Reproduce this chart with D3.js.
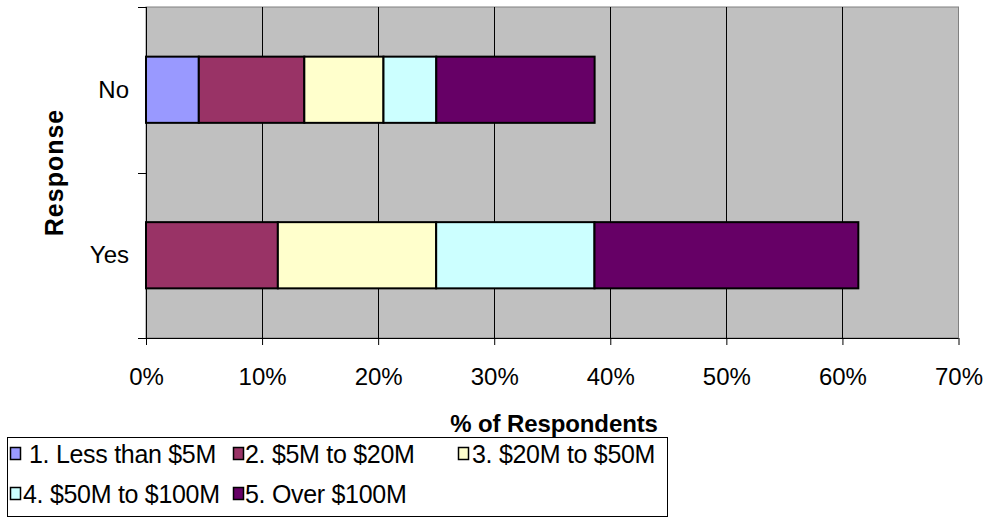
<!DOCTYPE html>
<html>
<head>
<meta charset="utf-8">
<script src="https://cdn.jsdelivr.net/npm/d3@7"></script>
<style>
  html, body { margin: 0; padding: 0; background: #ffffff; }
  svg { display: block; font-family: "Liberation Sans", Arial, sans-serif; }
</style>
</head>
<body>
<svg id="chart" width="992" height="519"></svg>
<script>
// Responses (category axis, top to bottom)
const categories = ["No", "Yes"];
// Budget bands (stack order, left to right)
const seriesNames = ["1. Less than $5M", "2. $5M to $20M", "3. $20M to $50M", "4. $50M to $100M", "5. Over $100M"];
const seriesColors = ["#9999FF", "#993366", "#FFFFCC", "#CCFFFF", "#660066"];
// Percent of respondents per band, one array per response
const noValues  = [4.55, 9.09, 6.82, 4.55, 13.64];
const yesValues = [0, 11.36, 13.64, 13.64, 22.73];
const xTicks = [0, 10, 20, 30, 40, 50, 60, 70];
const xAxisTitle = "% of Respondents";
const yAxisTitle = "Response";

const valuesByCategory = { "No": noValues, "Yes": yesValues };
const rows = categories.map(c => {
  const r = { category: c };
  seriesNames.forEach((s, i) => { r[s] = valuesByCategory[c][i]; });
  return r;
});

const svg = d3.select("#chart");
const plot = { left: 146, right: 958.5, top: 7, bottom: 338 };
const font = '"Liberation Sans", Arial, sans-serif';

const x = d3.scaleLinear().domain([0, 70]).range([plot.left, plot.right]);
const y = d3.scaleBand().domain(categories).range([plot.top, plot.bottom])
  .paddingInner(0.6).paddingOuter(0.3);

// Plot background
svg.append("rect")
  .attr("x", plot.left).attr("y", plot.top)
  .attr("width", plot.right - plot.left).attr("height", plot.bottom - plot.top)
  .attr("fill", "#C0C0C0").attr("stroke", "#808080").attr("stroke-width", 1);

// Vertical gridlines
svg.append("g").selectAll("line")
  .data(xTicks.filter(t => t > 0 && t < 70))
  .join("line")
  .attr("x1", d => Math.round(x(d)) + 0.5).attr("x2", d => Math.round(x(d)) + 0.5)
  .attr("y1", plot.top).attr("y2", plot.bottom)
  .attr("stroke", "#000").attr("stroke-width", 1);

// Stacked bars
const stack = d3.stack().keys(seriesNames);
const layers = stack(rows);
svg.append("g").selectAll("g")
  .data(layers)
  .join("g")
  .attr("fill", (d, i) => seriesColors[i])
  .selectAll("rect")
  .data(d => d.filter(p => p[1] - p[0] > 0))
  .join("rect")
  .attr("x", d => x(d[0]))
  .attr("width", d => x(d[1]) - x(d[0]))
  .attr("y", d => y(d.data.category))
  .attr("height", y.bandwidth())
  .attr("stroke", "#000").attr("stroke-width", 2);

// Bottom value axis
const xAxis = d3.axisBottom(x).tickValues(xTicks).tickSize(7).tickPadding(40)
  .tickFormat(d => d + "%");
const gx = svg.append("g").attr("transform", `translate(0,${plot.bottom})`).call(xAxis);
gx.select(".domain").attr("stroke", "#000").attr("d", `M${plot.left - 8},0.5H${plot.right}`);
gx.selectAll(".tick line").attr("stroke", "#000");
gx.selectAll("text").attr("font-family", font).attr("font-size", 24).attr("fill", "#000")
  .attr("dy", "0em");

// Left category axis: labels centred on bars, ticks between categories
svg.append("line")
  .attr("x1", plot.left + 0.5).attr("x2", plot.left + 0.5)
  .attr("y1", plot.top).attr("y2", plot.bottom + 7)
  .attr("stroke", "#000").attr("stroke-width", 1);
const boundaries = [plot.top, (y(categories[0]) + y.bandwidth() + y(categories[1])) / 2, plot.bottom];
svg.append("g").selectAll("line")
  .data(boundaries)
  .join("line")
  .attr("x1", plot.left - 8).attr("x2", plot.left)
  .attr("y1", d => Math.round(d) + 0.5).attr("y2", d => Math.round(d) + 0.5)
  .attr("stroke", "#000");
svg.append("g").selectAll("text")
  .data(categories)
  .join("text")
  .attr("x", 129)
  .attr("y", d => y(d) + y.bandwidth() / 2 + 8)
  .attr("text-anchor", "end")
  .attr("font-family", font).attr("font-size", 24).attr("fill", "#000")
  .text(d => d);

// Axis titles
svg.append("text")
  .attr("transform", `translate(63,${(plot.top + plot.bottom) / 2}) rotate(-90)`)
  .attr("text-anchor", "middle")
  .attr("font-family", font).attr("font-size", 25).attr("font-weight", "bold")
  .attr("letter-spacing", 1)
  .text(yAxisTitle);
svg.append("text")
  .attr("x", 554).attr("y", 432)
  .attr("text-anchor", "middle")
  .attr("font-family", font).attr("font-size", 24).attr("font-weight", "bold")
  .attr("letter-spacing", -0.1)
  .text(xAxisTitle);

// Legend
const legend = svg.append("g");
legend.append("rect")
  .attr("x", 7.5).attr("y", 437.5).attr("width", 660).attr("height", 79)
  .attr("fill", "#fff").attr("stroke", "#000").attr("stroke-width", 1);
const slots = [
  { sx: 10, tx: 29, row: 0 }, { sx: 233, tx: 245, row: 0 }, { sx: 458, tx: 472, row: 0 },
  { sx: 10, tx: 23, row: 1 }, { sx: 233, tx: 245, row: 1 }
];
const rowBase = [463, 503];
const items = legend.selectAll("g.item")
  .data(seriesNames)
  .join("g").attr("class", "item");
items.append("rect")
  .attr("x", (d, i) => slots[i].sx + 0.5)
  .attr("y", (d, i) => rowBase[slots[i].row] - 15.5)
  .attr("width", 10).attr("height", 12)
  .attr("fill", (d, i) => seriesColors[i])
  .attr("stroke", "#000").attr("stroke-width", 1.5);
items.append("text")
  .attr("x", (d, i) => slots[i].tx)
  .attr("y", (d, i) => rowBase[slots[i].row])
  .attr("font-family", font).attr("font-size", 25).attr("fill", "#000")
  .attr("letter-spacing", -0.3)
  .text(d => d);
</script>
</body>
</html>
